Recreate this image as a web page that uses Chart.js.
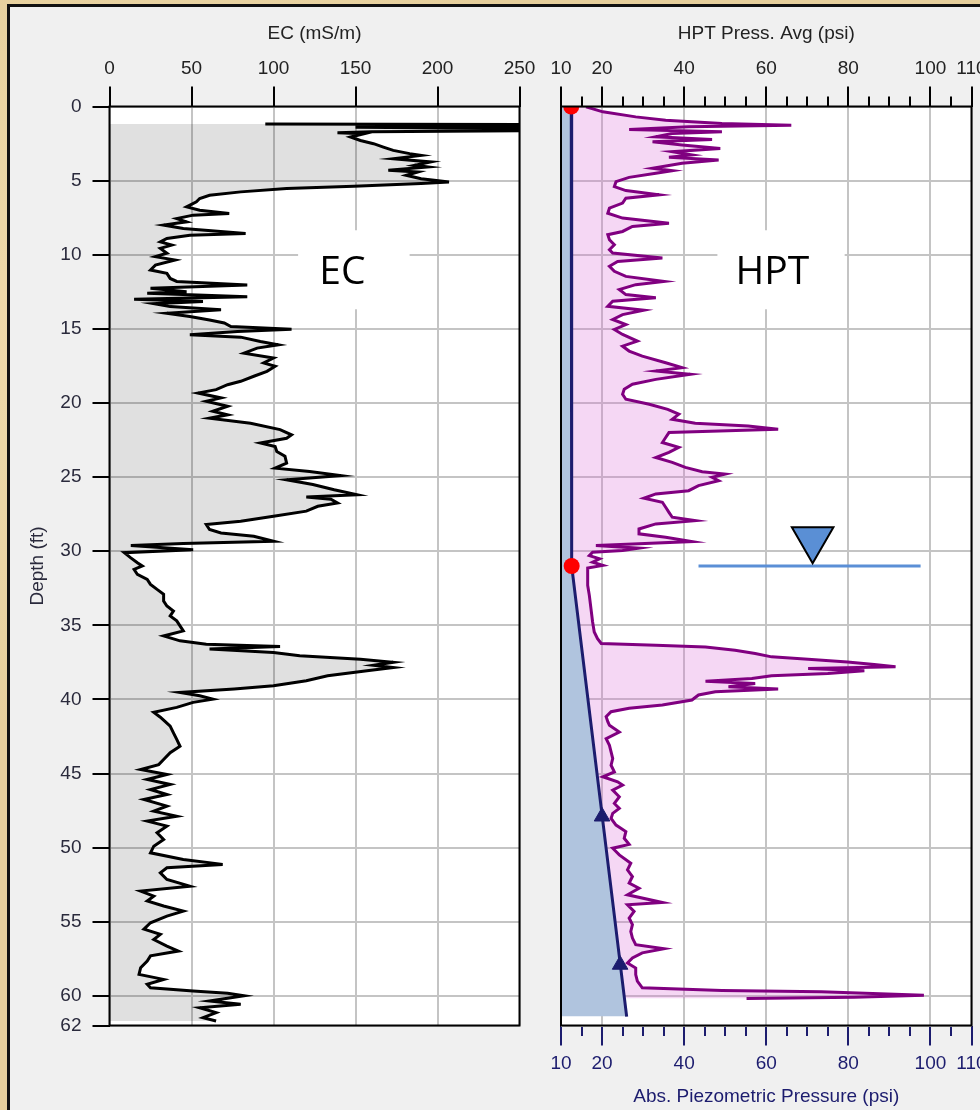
<!DOCTYPE html>
<html>
<head>
<meta charset="utf-8">
<title>EC / HPT log</title>
<script src="https://cdn.jsdelivr.net/npm/chart.js@4.4.1/dist/chart.umd.min.js"></script>
<style>
    html, body { margin: 0; padding: 0; }
    body {
        width: 980px;
        height: 1110px;
        overflow: hidden;
        position: relative;
        background: #e6cf9c;
        background-image:
            radial-gradient(circle at 20% 30%, rgba(255, 240, 200, 0.5), rgba(0, 0, 0, 0) 40%),
            radial-gradient(circle at 70% 80%, rgba(200, 170, 110, 0.4), rgba(0, 0, 0, 0) 45%);
    }
    #frame {
        position: absolute;
        left: 7px;
        top: 4px;
        width: 1000px;
        height: 1120px;
        border-left: 3px solid #111;
        border-top: 3px solid #111;
        background: #f0f0f0;
    }
    canvas { position: absolute; top: 0; }
    #ec-chart { left: 0; }
    #hpt-chart { left: 540px; }
</style>
</head>
<body>
<div id="frame"></div>
<canvas id="ec-chart" width="540" height="1110" style="width:540px;height:1110px"></canvas>
<canvas id="hpt-chart" width="440" height="1110" style="width:440px;height:1110px"></canvas>
<script>
// ── Axis ticks ──

const DEPTH_TICKS = [0, 5, 10, 15, 20, 25, 30, 35, 40, 45, 50, 55, 60, 62];
const EC_TICKS = [0, 50, 100, 150, 200, 250];
const PSI_TICKS = [10, 15, 20, 25, 30, 35, 40, 45, 50, 55, 60, 65, 70, 75, 80, 85, 90, 95, 100, 105, 110];
const PSI_LABELS = [10, 20, 40, 60, 80, 100, 110];

// ── EC log (depth ft / mS/m) ──

const ecDepth = [
    1.18, 1.22, 1.35, 1.40, 1.50, 1.62, 1.70, 1.77, 1.84, 2.06, 2.29, 2.51, 2.74, 2.96, 3.18, 3.30,
    3.52, 3.74, 3.97, 4.08, 4.30, 4.42, 4.64, 4.87, 4.98, 5.09, 5.20, 5.38, 5.54, 5.76, 5.99, 6.21,
    6.43, 6.77, 7.00, 7.22, 7.33, 7.56, 7.78, 8.00, 8.23, 8.57, 8.68, 8.90, 9.13, 9.35, 9.57, 9.90,
    10.13, 10.36, 10.70, 11.03, 11.26, 11.60, 11.80, 12.04, 12.26, 12.49, 12.60, 12.83, 13.00, 13.16,
    13.30, 13.50, 13.72, 13.95, 14.17, 14.40, 14.60, 14.84, 15.02, 15.18, 15.40, 15.56, 15.85, 16.08,
    16.30, 16.64, 16.97, 17.30, 17.53, 17.87, 18.20, 18.54, 18.77, 19.10, 19.33, 19.66, 19.89, 20.22,
    20.56, 20.80, 21.03, 21.37, 21.80, 22.15, 22.38, 22.70, 22.94, 23.27, 23.60, 24.06, 24.40, 24.62,
    24.90, 25.18, 25.50, 25.85, 26.19, 26.35, 26.50, 26.75, 26.97, 27.30, 27.65, 27.98, 28.20, 28.54,
    28.77, 29.00, 29.33, 29.48, 29.62, 29.90, 30.10, 30.45, 30.78, 31.00, 31.23, 31.57, 31.90, 32.24,
    32.58, 32.90, 33.36, 33.70, 34.04, 34.37, 34.70, 35.04, 35.38, 35.72, 36.05, 36.28, 36.43, 36.60,
    36.84, 37.06, 37.29, 37.50, 37.70, 37.85, 38.07, 38.40, 38.74, 39.08, 39.30, 39.53, 39.75, 39.98,
    40.20, 40.54, 40.87, 41.20, 41.50, 41.80, 42.26, 42.70, 43.16, 43.60, 44.06, 44.40, 44.73, 45.07,
    45.40, 45.74, 46.08, 46.42, 46.75, 47.20, 47.54, 47.88, 48.21, 48.55, 49.00, 49.45, 49.90, 50.35,
    50.80, 51.13, 51.36, 51.70, 52.15, 52.60, 52.93, 53.27, 53.60, 53.94, 54.28, 54.62, 55.07, 55.50,
    55.85, 56.20, 56.64, 56.98, 57.30, 57.65, 58.10, 58.55, 58.89, 59.22, 59.45, 59.67, 59.83, 60.00,
    60.35, 60.57, 60.80, 61.13, 61.47, 61.70
];
const ecValue = [
    95, 265, 265, 150, 265, 265, 160, 139, 155, 147, 153, 161, 167, 173, 183, 190,
    173, 196, 186, 194, 170, 188, 181, 190, 198, 207, 190, 149, 108, 80, 61, 55,
    53, 47, 55, 73, 51, 41, 47, 33, 45, 83, 49, 35, 31, 38, 31, 35,
    28, 40, 28, 25, 35, 37, 41, 84, 25, 47, 23, 84, 15, 57,
    27, 37, 68, 35, 49, 61, 70, 74, 111, 78, 49, 80, 92, 103,
    90, 82, 100, 94, 101, 96, 88, 80, 72, 65, 54, 68, 59, 72,
    63, 72, 61, 86, 104, 111, 108, 92, 101, 102, 107, 108, 101, 122,
    141, 108, 124, 137, 151, 120, 135, 139, 127, 120, 100, 80, 59, 61,
    68, 88, 100, 45, 13, 51, 9, 13, 17, 20, 15, 17, 23, 25,
    29, 33, 33, 35, 39, 37, 41, 43, 45, 33, 43, 59, 104, 61,
    100, 116, 153, 173, 161, 173, 157, 133, 120, 100, 76, 43, 55, 63,
    51, 41, 27, 31, 34, 37, 39, 41, 43, 37, 33, 30, 19, 35,
    23, 37, 25, 35, 21, 35, 27, 41, 23, 35, 29, 33, 27, 25,
    45, 69, 35, 31, 35, 49, 19, 27, 23, 33, 45, 35, 25, 21,
    31, 27, 35, 42, 25, 23, 19, 18, 33, 23, 25, 51, 72, 82,
    61, 80, 55, 65, 57, 65
];

// ── HPT log (depth ft / psi) ──

const hptDepth = [
    0.02, 0.36, 0.70, 0.92, 1.14, 1.26, 1.37, 1.55, 1.70, 1.82, 2.04, 2.22, 2.38, 2.60, 2.83, 3.05,
    3.27, 3.43, 3.61, 3.83, 4.17, 4.33, 4.50, 4.78, 5.07, 5.40, 5.67, 5.96, 6.19, 6.52, 6.86, 7.20,
    7.53, 7.87, 8.09, 8.43, 8.65, 8.99, 9.33, 9.66, 9.89, 10.22, 10.45, 10.78, 11.12, 11.46, 11.80, 12.02,
    12.35, 12.69, 12.91, 13.14, 13.48, 13.74, 14.04, 14.37, 14.71, 15.04, 15.38, 15.83, 16.17, 16.50,
    16.84, 17.29, 17.62, 17.85, 18.07, 18.41, 18.74, 19.08, 19.42, 19.75, 20.09, 20.43, 20.76, 21.10,
    21.37, 21.55, 21.77, 22.00, 22.33, 22.67, 23.00, 23.34, 23.68, 24.01, 24.35, 24.64, 24.80, 25.02,
    25.25, 25.58, 25.92, 26.14, 26.43, 26.70, 27.04, 27.38, 27.71, 27.94, 28.16, 28.50, 28.83, 29.06,
    29.35, 29.50, 29.62, 29.80, 29.96, 30.07, 30.30, 30.52, 30.74, 30.96, 31.14, 31.64, 32.30, 32.98,
    33.88, 34.78, 35.45, 35.90, 36.23, 36.35, 36.46, 36.68, 36.90, 37.13, 37.29, 37.47, 37.65, 37.80,
    37.91, 38.07, 38.25, 38.40, 38.59, 38.77, 38.92, 39.15, 39.30, 39.48, 39.70, 40.04, 40.38, 40.60,
    40.83, 41.17, 41.50, 41.75, 42.20, 42.65, 43.10, 43.54, 43.99, 44.44, 44.89, 45.22, 45.56, 45.78,
    46.12, 46.57, 47.02, 47.35, 47.69, 48.03, 48.48, 48.92, 49.37, 49.78, 50.04, 50.49, 51.05, 51.50,
    51.95, 52.40, 52.74, 53.18, 53.70, 53.86, 54.30, 54.75, 55.20, 55.65, 56.10, 56.55, 56.82, 57.10,
    57.44, 57.78, 58.12, 58.56, 59.01, 59.46, 59.64, 59.73, 59.87, 59.96, 60.09, 60.18
];
const hptPress = [
    16.1, 20.2, 28.2, 35.5, 49.2, 66.1, 41.1, 26.6, 49.2, 37.1, 33.1, 46.8, 32.3, 39.5, 48.8, 37.1,
    41.9, 36.3, 48.4, 39.5, 32.3, 37.1, 33.1, 26.6, 23.4, 23.0, 25.8, 33.9, 25.8, 25.0, 21.8, 21.4,
    25.0, 36.3, 27.4, 25.0, 21.4, 21.8, 23.0, 21.8, 22.6, 34.7, 23.8, 21.8, 23.0, 25.8, 35.1, 28.2,
    24.2, 25.8, 33.1, 22.6, 21.4, 30.2, 25.0, 22.6, 25.8, 23.0, 25.0, 28.6, 25.0, 26.6,
    29.8, 35.5, 39.5, 33.1, 41.5, 33.1, 27.4, 25.4, 25.0, 25.8, 31.5, 36.0, 38.7, 37.1,
    42.7, 55.6, 62.9, 36.3, 35.5, 34.7, 38.7, 36.3, 33.1, 37.1, 40.3, 44.4, 50.0, 46.8,
    48.4, 43.5, 41.1, 33.1, 30.2, 34.7, 35.5, 36.3, 37.1, 42.7, 33.1, 29.0, 29.0, 35.5,
    41.9, 29.0, 18.5, 29.0, 25.0, 17.7, 16.9, 19.4, 17.7, 20.2, 16.5, 16.5, 16.5, 16.9,
    17.3, 17.7, 18.1, 18.9, 19.8, 33.1, 45.2, 52.4, 57.3, 61.3, 70.2, 79.8, 86.3, 91.5,
    70.2, 83.9, 75.0, 61.3, 56.5, 45.2, 57.3, 50.8, 62.9, 47.6, 43.5, 41.9, 34.7, 26.6,
    22.2, 21.0, 21.4, 21.8, 24.2, 21.0, 21.8, 22.2, 22.6, 22.2, 23.0, 20.2, 23.8, 25.0,
    22.6, 24.2, 23.0, 24.2, 22.6, 22.2, 23.4, 25.8, 25.4, 26.6, 22.6, 24.2, 27.0, 26.2,
    27.4, 26.6, 29.0, 26.2, 34.7, 26.2, 27.8, 26.6, 27.4, 27.0, 27.4, 28.2, 35.1, 29.8,
    27.4, 26.2, 28.2, 28.2, 28.6, 29.8, 49.2, 73.4, 89.5, 98.4, 81.5, 55.2
];

// ── Abs. piezometric pressure, dissipation tests, water level ──

const piezoDepth = [0, 31.0, 61.4];
const piezoPress = [12.5, 12.6, 26.0];
const dissipDepth = [0, 31.0];
const dissipPress = [12.5, 12.6];
const checkDepth = [47.9, 57.9];
const checkPress = [20.0, 24.4];
const waterDepth = [31.0, 31.0];
const waterPress = [43.5, 97.6];
const waterMarkDepth = [29.2];
const waterMarkPress = [71.3];

const FONT = "'Liberation Sans', Arial, sans-serif";
const NAVY = "#1c1c6e";
const GRID = "#c4c4c4";

function toPoints(depths, values) {
    return depths.map((d, i) => ({ x: values[i], y: d }));
}

function fixedTicks(values) {
    return function (scale) {
        scale.ticks = values.map(v => ({ value: v }));
    };
}

// Force axis box sizes so the plot areas land where the log expects them
function fixSize(size) {
    return function (scale) {
        if (scale.isHorizontal()) scale.height = size;
        else scale.width = size;
        scale.paddingLeft = 0;
        scale.paddingRight = 0;
        scale.paddingTop = 0;
        scale.paddingBottom = 0;
    };
}

// ── Plugins ──

const plotFrame = {
    id: "plotFrame",
    beforeDraw(chart) {
        const a = chart.chartArea;
        const ctx = chart.ctx;
        ctx.save();
        ctx.fillStyle = "#ffffff";
        ctx.fillRect(a.left, a.top, a.width, a.height);
        ctx.restore();
    },
    afterDatasetsDraw(chart) {
        const a = chart.chartArea;
        const ctx = chart.ctx;
        ctx.save();
        ctx.strokeStyle = "#000";
        ctx.lineWidth = 2;
        ctx.strokeRect(a.left, a.top, a.width, a.height);
        ctx.restore();
    }
};

function labelBox(text, box, at) {
    return {
        id: "labelBox",
        beforeDatasetsDraw(chart) {
            const xs = chart.scales.x;
            const ys = chart.scales.y;
            const ctx = chart.ctx;
            const x0 = xs.getPixelForValue(box[0]);
            const x1 = xs.getPixelForValue(box[1]);
            const y0 = ys.getPixelForValue(box[2]);
            const y1 = ys.getPixelForValue(box[3]);
            ctx.save();
            ctx.fillStyle = "#ffffff";
            ctx.fillRect(x0, y0, x1 - x0, y1 - y0);
            ctx.fillStyle = "#000";
            ctx.font = "39px 'Open Sans', sans-serif";
            ctx.textAlign = "center";
            ctx.textBaseline = "middle";
            ctx.fillText(text, xs.getPixelForValue(at[0]), ys.getPixelForValue(at[1]));
            ctx.restore();
        }
    };
}

function depthAxis(showLabels, width) {
    return {
        type: "linear",
        position: "left",
        min: 0,
        max: 62,
        reverse: true,
        afterBuildTicks: fixedTicks(DEPTH_TICKS),
        afterFit: fixSize(width),
        border: { display: false },
        grid: {
            color: GRID,
            lineWidth: 2,
            drawTicks: showLabels,
            tickLength: 17,
            tickColor: "#000",
            tickWidth: 2
        },
        ticks: {
            display: showLabels,
            autoSkip: false,
            padding: 11,
            color: "#2a2a3c",
            font: { family: FONT, size: 19 }
        },
        title: {
            display: showLabels,
            text: "Depth (ft)",
            color: "#2a2a3c",
            font: { family: FONT, size: 19 },
            padding: { top: 26, bottom: 0 }
        }
    };
}

// ── EC chart ──

new Chart(document.getElementById("ec-chart"), {
    type: "line",
    data: {
        datasets: [{
            data: toPoints(ecDepth, ecValue),
            borderColor: "#000",
            borderWidth: 3,
            pointRadius: 0,
            fill: { value: 0 },
            backgroundColor: "rgba(0, 0, 0, 0.12)"
        }]
    },
    options: {
        indexAxis: "y",
        responsive: false,
        animation: false,
        devicePixelRatio: 1,
        layout: { autoPadding: false, padding: { left: 0, top: 0, right: 20.5, bottom: 84.5 } },
        plugins: { legend: { display: false }, tooltip: { enabled: false } },
        scales: {
            x: {
                type: "linear",
                position: "top",
                min: 0,
                max: 250,
                afterBuildTicks: fixedTicks(EC_TICKS),
                afterFit: fixSize(106.5),
                border: { display: false },
                grid: { color: GRID, lineWidth: 2, tickLength: 20, tickColor: "#000", tickWidth: 2 },
                ticks: {
                    autoSkip: false,
                    maxRotation: 0,
                    padding: 6,
                    color: "#222",
                    font: { family: FONT, size: 19 }
                },
                title: {
                    display: true,
                    text: "EC (mS/m)",
                    color: "#222",
                    font: { family: FONT, size: 19 },
                    padding: { top: 22, bottom: 0 }
                }
            },
            y: depthAxis(true, 109.5)
        }
    },
    plugins: [plotFrame, labelBox("EC", [115, 183, 8.35, 13.68], [142, 11.2])]
});

// ── HPT chart ──

function psiAxis(position, size, tickColor, labelColor, title) {
    const top = position === "top";
    return {
        type: "linear",
        position: position,
        min: 10,
        max: 110,
        afterBuildTicks: fixedTicks(PSI_TICKS),
        afterFit: fixSize(size),
        border: { display: false },
        grid: {
            drawOnChartArea: top,
            color: ctx => (ctx.tick && PSI_LABELS.includes(ctx.tick.value)) ? GRID : "rgba(0,0,0,0)",
            lineWidth: 2,
            tickLength: 20,
            tickColor: tickColor,
            tickWidth: 2,
            tickBorderDash: ctx => (ctx.tick && PSI_LABELS.includes(ctx.tick.value)) ? [] : (top ? [0, 10, 10, 0] : [10, 10])
        },
        ticks: {
            autoSkip: false,
            maxRotation: 0,
            padding: top ? 6 : 7,
            color: labelColor,
            font: { family: FONT, size: 19 },
            callback: v => PSI_LABELS.includes(v) ? String(v) : ""
        },
        title: {
            display: true,
            text: title,
            color: labelColor,
            font: { family: FONT, size: 19 },
            padding: top ? { top: 22, bottom: 0 } : { top: 0, bottom: 2 }
        }
    };
}

new Chart(document.getElementById("hpt-chart"), {
    type: "line",
    data: {
        datasets: [
            {
                data: toPoints(hptDepth, hptPress),
                borderColor: "#800080",
                borderWidth: 3,
                pointRadius: 0,
                fill: { value: 10 },
                backgroundColor: "rgba(218, 112, 214, 0.28)",
                order: 6
            },
            {
                data: toPoints(piezoDepth, piezoPress),
                borderColor: NAVY,
                borderWidth: 3,
                pointRadius: 0,
                fill: { value: 10 },
                backgroundColor: "#b0c4de",
                order: 5
            },
            {
                data: toPoints(waterDepth, waterPress),
                borderColor: "#5b8fd6",
                borderWidth: 3,
                pointRadius: 0,
                fill: false,
                order: 4
            },
            {
                data: toPoints(waterMarkDepth, waterMarkPress),
                showLine: false,
                pointStyle: "triangle",
                rotation: 180,
                pointRadius: 24,
                pointBackgroundColor: "#5a8fd5",
                pointBorderColor: "#000",
                pointBorderWidth: 2,
                order: 3
            },
            {
                data: toPoints(checkDepth, checkPress),
                showLine: false,
                pointStyle: "triangle",
                pointRadius: 9,
                pointBackgroundColor: NAVY,
                pointBorderColor: NAVY,
                pointBorderWidth: 1,
                order: 2
            },
            {
                data: toPoints(dissipDepth, dissipPress),
                showLine: false,
                pointRadius: 8,
                pointBackgroundColor: "#ff0000",
                pointBorderColor: "#ff0000",
                pointBorderWidth: 0,
                clip: 0,
                order: 1
            }
        ]
    },
    options: {
        indexAxis: "y",
        responsive: false,
        animation: false,
        devicePixelRatio: 1,
        layout: { autoPadding: false, padding: { left: 0, top: 0, right: 8.5, bottom: 0 } },
        plugins: { legend: { display: false }, tooltip: { enabled: false } },
        scales: {
            x: psiAxis("top", 106.5, "#000", "#222", "HPT Press. Avg (psi)"),
            x2: psiAxis("bottom", 84.5, NAVY, NAVY, "Abs. Piezometric Pressure (psi)"),
            y: depthAxis(false, 21)
        }
    },
    plugins: [plotFrame, labelBox("HPT", [48.1, 79.1, 8.35, 13.68], [61.5, 11.2])]
});
</script>
</body>
</html>
